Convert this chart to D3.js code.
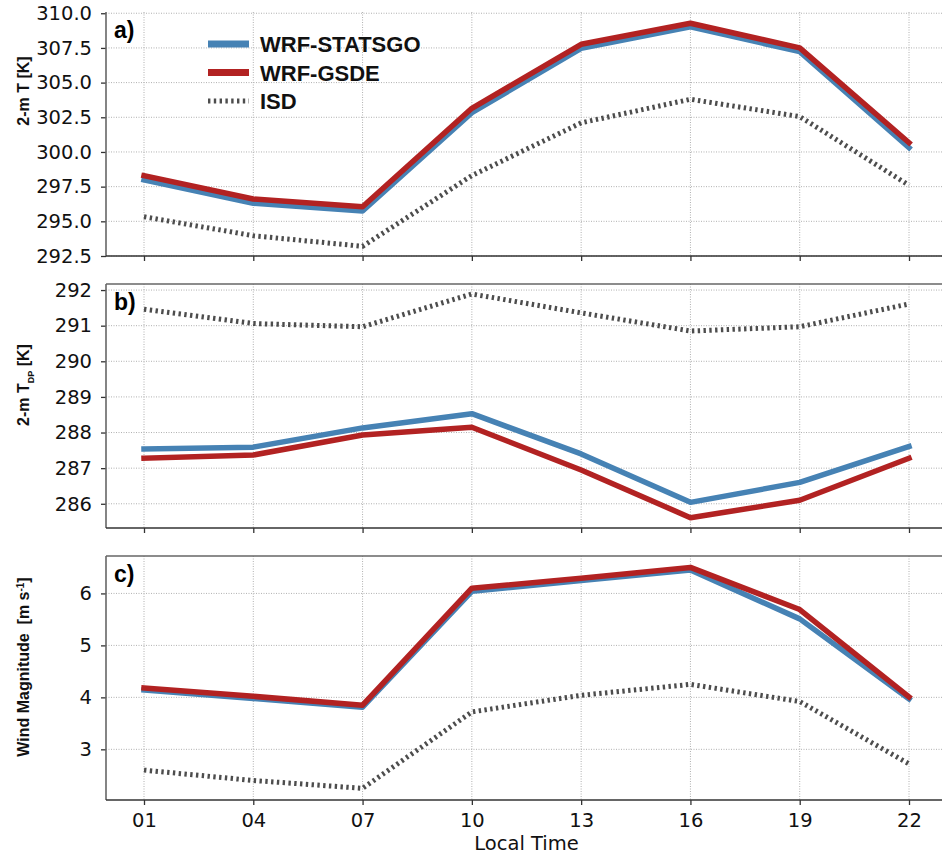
<!DOCTYPE html>
<html>
<head>
<meta charset="utf-8">
<script src="https://cdn.jsdelivr.net/npm/d3@7"></script>
<style>
  body { margin: 0; background: #fff; }
  svg { display: block; }
</style>
</head>
<body>
<svg width="942" height="856"></svg>
<script>
// local hours on the x axis
var hours = [1, 4, 7, 10, 13, 16, 19, 22];

// a) 2-m temperature [K]
var tStatsgo = [297.98, 296.30, 295.74, 302.83, 307.47, 309.03, 307.23, 300.31];
var tGsde    = [298.29, 296.61, 296.05, 303.15, 307.76, 309.28, 307.50, 300.67];
var tIsd     = [295.33, 293.96, 293.20, 298.30, 302.10, 303.80, 302.55, 297.60];

// b) 2-m dew point [K]
var tdStatsgo = [287.54, 287.59, 288.13, 288.53, 287.40, 286.04, 286.60, 287.61];
var tdGsde    = [287.28, 287.37, 287.93, 288.15, 286.95, 285.61, 286.10, 287.28];
var tdIsd     = [291.46, 291.06, 290.97, 291.89, 291.36, 290.85, 290.97, 291.61];

// c) wind magnitude [m/s]
var wStatsgo = [4.14, 3.98, 3.81, 6.04, 6.25, 6.45, 5.51, 3.97];
var wGsde    = [4.18, 4.02, 3.85, 6.10, 6.29, 6.50, 5.69, 4.01];
var wIsd     = [2.60, 2.40, 2.25, 3.72, 4.04, 4.25, 3.92, 2.72];

var seriesNames = ["WRF-STATSGO", "WRF-GSDE", "ISD"];

var tTicks  = [292.5, 295.0, 297.5, 300.0, 302.5, 305.0, 307.5, 310.0];
var tdTicks = [286, 287, 288, 289, 290, 291, 292];
var wTicks  = [3, 4, 5, 6];

var svg = d3.select("svg");

var left = 106, right = 960;   // right edge runs past the picture (cropped)
var x = d3.scaleLinear().domain([1, 22]).range([144, 909]);

var styles = {
    "WRF-STATSGO": { color: "#4682b4", width: 5.5, dash: null },
    "WRF-GSDE":    { color: "#b22222", width: 5.5, dash: null },
    "ISD":         { color: "#4d4d4d", width: 5, dash: "2.4,3.4" }
};

var panels = [
    { tag: "a)", top: 12,  bottom: 256, domain: [292.5, 310.09], ticks: tTicks,  fmt: d3.format(".1f"),
      series: [tIsd, tStatsgo, tGsde], labelY: 91, topSpine: false },
    { tag: "b)", top: 284, bottom: 528, domain: [285.32, 292.17], ticks: tdTicks, fmt: d3.format("d"),
      series: [tdIsd, tdStatsgo, tdGsde], labelY: 385, topSpine: true },
    { tag: "c)", top: 556, bottom: 800, domain: [2.025, 6.72], ticks: wTicks, fmt: d3.format("d"),
      series: [wIsd, wStatsgo, wGsde], labelY: 667, topSpine: true }
];
var drawOrder = ["ISD", "WRF-STATSGO", "WRF-GSDE"];

panels.forEach(function (p, i) {
    var y = d3.scaleLinear().domain(p.domain).range([p.bottom, p.top]);
    var g = svg.append("g");

    // grid
    g.append("g").selectAll("line").data(p.ticks).enter().append("line")
        .attr("x1", left).attr("x2", right)
        .attr("y1", d => y(d)).attr("y2", d => y(d))
        .attr("stroke", "#b0b0b0").attr("stroke-width", 1).attr("stroke-dasharray", "1,1.5");
    g.append("g").selectAll("line").data(hours).enter().append("line")
        .attr("x1", d => x(d)).attr("x2", d => x(d))
        .attr("y1", p.top).attr("y2", p.bottom)
        .attr("stroke", "#b0b0b0").attr("stroke-width", 1).attr("stroke-dasharray", "1,1.5");

    // lines
    drawOrder.forEach(function (name, k) {
        var st = styles[name];
        var line = d3.line().x((d, j) => x(hours[j])).y(d => y(d));
        g.append("path")
            .datum(p.series[k])
            .attr("d", line)
            .attr("fill", "none")
            .attr("stroke", st.color)
            .attr("stroke-width", st.width)
            .attr("stroke-linejoin", "round")
            .attr("stroke-linecap", st.dash ? "butt" : "square")
            .attr("stroke-dasharray", st.dash);
    });

    // axes
    var yAxis = d3.axisLeft(y).tickValues(p.ticks).tickFormat(p.fmt).tickSize(5).tickPadding(9);
    var ya = g.append("g").attr("transform", "translate(" + left + ",0)").call(yAxis);
    var xAxis = d3.axisBottom(x).tickValues(hours).tickFormat(d3.format("02d")).tickSize(5).tickPadding(8);
    var xa = g.append("g").attr("transform", "translate(0," + p.bottom + ")").call(xAxis);
    if (i < 2) xa.selectAll("text").remove();

    [ya, xa].forEach(function (a) {
        a.select(".domain").remove();
        a.selectAll("line").attr("stroke", "#333").attr("stroke-width", 1.3);
        a.selectAll("text")
            .attr("fill", "#111")
            .style("font-family", "'DejaVu Sans', sans-serif")
            .style("font-size", "19.5px");
    });

    // spines
    g.append("line").attr("x1", left).attr("x2", left).attr("y1", p.top).attr("y2", p.bottom)
        .attr("stroke", "#666").attr("stroke-width", 1.6);
    g.append("line").attr("x1", left).attr("x2", right).attr("y1", p.bottom).attr("y2", p.bottom)
        .attr("stroke", "#333").attr("stroke-width", 1.6);
    if (p.topSpine) {
        g.append("line").attr("x1", left).attr("x2", right).attr("y1", p.top).attr("y2", p.top)
            .attr("stroke", "#666").attr("stroke-width", 1.6);
    }

    // panel tag
    g.append("text")
        .attr("x", 114).attr("y", p.top + 26)
        .style("font-family", "'Liberation Sans', Arial, sans-serif")
        .style("font-weight", "bold").style("font-size", "23px")
        .text(p.tag);
});

// y labels
function yLabel(cy) {
    return svg.append("text")
        .attr("transform", "translate(29," + cy + ") rotate(-90)")
        .attr("text-anchor", "middle")
        .style("font-family", "'Liberation Sans', Arial, sans-serif")
        .style("font-weight", "bold").style("font-size", "16px")
        .attr("fill", "#111");
}
yLabel(panels[0].labelY).text("2-m T [K]");
var lb = yLabel(panels[1].labelY);
lb.append("tspan").text("2-m T");
lb.append("tspan").attr("baseline-shift", "sub").style("font-size", "9px").text("DP");
lb.append("tspan").text(" [K]");
var lc = yLabel(panels[2].labelY);
lc.append("tspan").text("Wind Magnitude \u00a0[m s");
lc.append("tspan").attr("baseline-shift", "super").style("font-size", "10px").text("-1");
lc.append("tspan").text("]");

// x label
svg.append("text")
    .attr("x", x(11.5)).attr("y", 850)
    .attr("text-anchor", "middle")
    .style("font-family", "'DejaVu Sans', sans-serif")
    .style("font-size", "19.5px")
    .attr("fill", "#111")
    .text("Local Time");

// legend
var legend = svg.append("g").attr("transform", "translate(208,44)");
seriesNames.forEach(function (name, k) {
    var st = styles[name];
    var row = legend.append("g").attr("transform", "translate(0," + (k * 28.5) + ")");
    row.append("line")
        .attr("x1", 0).attr("x2", 41).attr("y1", 0).attr("y2", 0)
        .attr("stroke", st.color).attr("stroke-width", st.dash ? 5 : 7)
        .attr("stroke-dasharray", st.dash);
    row.append("text")
        .attr("x", 52).attr("y", 8)
        .style("font-family", "'Liberation Sans', Arial, sans-serif")
        .style("font-weight", "bold").style("font-size", "22px")
        .attr("fill", "#111")
        .text(name);
});
</script>
</body>
</html>
